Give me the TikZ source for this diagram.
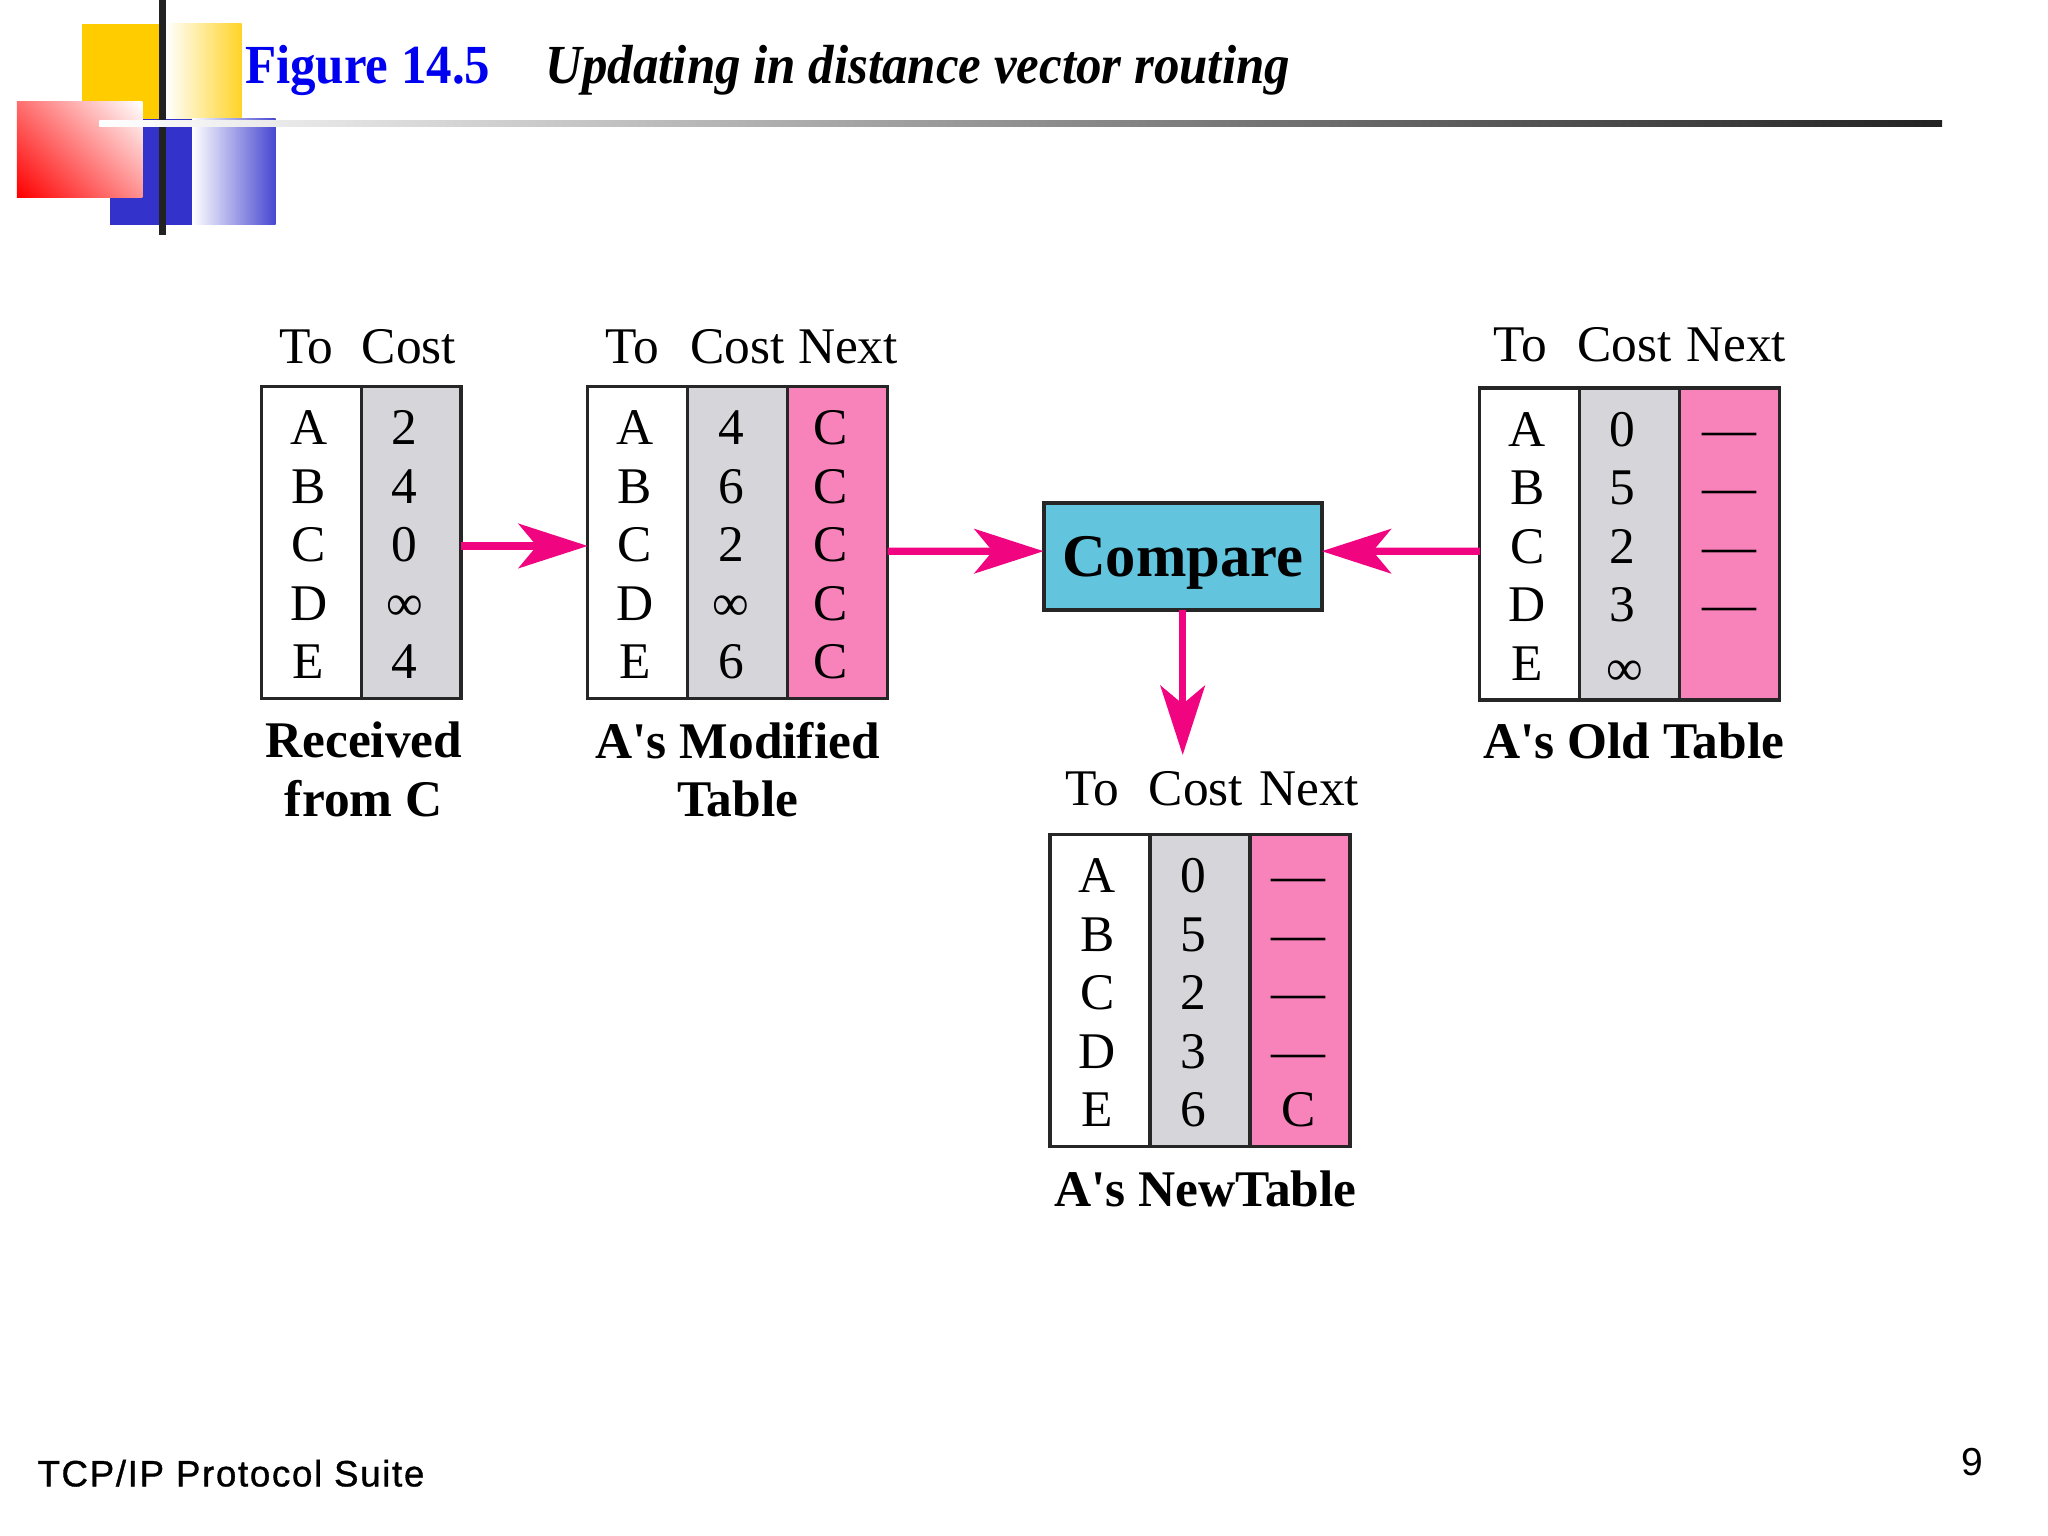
\documentclass[tikz,border=0pt]{standalone}
\usepackage{fontspec}
\usepackage{graphicx}
\usetikzlibrary{positioning,arrows.meta,shadings}
\newfontfamily\tabfont{Liberation Serif}
\newfontfamily\titlefont[FakeStretch=0.925]{Liberation Serif}
\newfontfamily\footfont[LetterSpace=4.5,FakeBold=1]{Liberation Sans}
\newfontfamily\numfont{Liberation Sans}
\definecolor{costgray}{RGB}{214,213,217}
\definecolor{nextpink}{RGB}{248,130,186}
\definecolor{arrowpink}{RGB}{240,4,127}
\definecolor{comparecyan}{RGB}{98,196,221}
\definecolor{rulegray}{RGB}{34,34,34}
\definecolor{titleblue}{RGB}{0,0,240}
\definecolor{squareblue}{RGB}{51,51,204}
\definecolor{squareyellow}{RGB}{255,204,0}
\pgfdeclarehorizontalshading{redfade}{100bp}{color(0bp)=(red); color(15bp)=(red); color(85bp)=(white); color(100bp)=(white)}
\newcommand{\dashmark}{\scalebox{1.05}[1]{—}}
% cell texts of one column, #1 = column node, #2 = shift to the left
\newcommand{\colrows}[3]{%
  \foreach \t [count=\r] in {#3}
    \node[cell] (#1-\r) at ([xshift=-#2, yshift={(-0.445-(\r-1)*0.448)*1cm}] #1.north) {\t};
}
\begin{document}
\begin{tikzpicture}[
    x=0.1mm, y=-0.1mm,
    node distance=0pt,
    column/.style={rectangle, draw=black!85, line width=0.25mm, inner sep=0pt, outer sep=0pt, minimum width=7.65mm, minimum height=23.9mm},
    cell/.style={anchor=base, inner sep=0pt, font=\tabfont\fontsize{11.2}{13}\selectfont},
    head/.style={anchor=base, inner sep=0pt, font=\tabfont\fontsize{11.2}{13}\selectfont},
    caption/.style={inner sep=0pt, align=center, font=\tabfont\bfseries\fontsize{11.2}{12.76}\selectfont},
    arrow/.style={-{Stealth[length=5.3mm, width=3.4mm, inset=1.4mm]}, line width=0.55mm, arrowpink}
]
\useasboundingbox (0,0) rectangle (1568,1176);

% corner decoration
\fill[squareyellow] (63,18) rectangle (127,94);
\shade[left color=white, right color=squareyellow!85!white] (127,18) rectangle (185,94);
\fill[squareblue] (84,91) rectangle (147,172);
\shade[left color=white, right color=squareblue!90!white] (147,91) rectangle (211,172);
\fill[rulegray] (122,0) rectangle (127,180);
\shade[shading=redfade, shading angle=45] (13,78) rectangle (109,151);
\shade[left color=white, middle color=white!75!black, right color=rulegray] (76,92) rectangle (1487,97);

% title
\node[anchor=base west, inner sep=0pt, text=titleblue, font=\titlefont\bfseries\fontsize{12}{14}\selectfont] (figno) at (187,64) {Figure 14.5};
\node[anchor=base west, inner sep=0pt, font=\titlefont\bfseries\itshape\fontsize{12}{14}\selectfont] (figtitle) at (417,64) {Updating in distance vector routing};

% received from C
\node[column, fill=white, anchor=north west] (recv-to) at (200,296) {};
\node[column, fill=costgray, right=of recv-to] (recv-cost) {};
\colrows{recv-to}{0.2mm}{A,B,C,D,E}
\colrows{recv-cost}{0.5mm}{2,4,0,∞,4}
\node[head] (recv-h1) at ([xshift=-0.4mm, yshift=1.8mm] recv-to.north) {To};
\node[head] (recv-h2) at ([xshift=-0.15mm, yshift=1.8mm] recv-cost.north) {Cost};
\node[caption, xshift=0.2mm, below=1.7mm of recv-to.south east] (recv-cap) {Received\\from C};

% modified table
\node[column, fill=white, anchor=north west] (mod-to) at (450,296) {};
\node[column, fill=costgray, right=of mod-to] (mod-cost) {};
\node[column, fill=nextpink, right=of mod-cost] (mod-next) {};
\colrows{mod-to}{0.2mm}{A,B,C,D,E}
\colrows{mod-cost}{0.5mm}{4,6,2,∞,6}
\colrows{mod-next}{0.5mm}{C,C,C,C,C}
\node[head] (mod-h1) at ([xshift=-0.4mm, yshift=1.8mm] mod-to.north) {To};
\node[head] (mod-h2) at ([xshift=0mm, yshift=1.8mm] mod-cost.north) {Cost};
\node[head] (mod-h3) at ([xshift=0.8mm, yshift=1.8mm] mod-next.north) {Next};
\node[caption, below=1.7mm of mod-cost.south] (mod-cap) {A's Modified\\Table};

% compare
\node[rectangle, draw=black!85, line width=0.3mm, fill=comparecyan, minimum width=21.3mm, minimum height=8.2mm, inner sep=0pt, outer sep=0pt, text height=4mm, text depth=0.95mm, font=\tabfont\bfseries\fontsize{13.2}{15}\selectfont] (compare) at (905.5,426) {Compare};

% old table
\node[column, fill=white, anchor=north west] (old-to) at (1133,297) {};
\node[column, fill=costgray, right=of old-to] (old-cost) {};
\node[column, fill=nextpink, right=of old-cost] (old-next) {};
\colrows{old-to}{0.2mm}{A,B,C,D,E}
\colrows{old-cost}{0.6mm}{0,5,2,3}
\colrows{old-next}{0mm}{\dashmark,\dashmark,\dashmark,\dashmark}
\node[cell] (old-inf) at ([xshift=-0.4mm, yshift=-22.8mm] old-cost.north) {∞};
\node[head] (old-h1) at ([xshift=-0.7mm, yshift=2mm] old-to.north) {To};
\node[head] (old-h2) at ([xshift=-0.4mm, yshift=2mm] old-cost.north) {Cost};
\node[head] (old-h3) at ([xshift=0.5mm, yshift=2mm] old-next.north) {Next};
\node[caption, xshift=0.3mm, below=1.7mm of old-cost.south] (old-cap) {A's Old Table};

% new table
\node[column, fill=white, anchor=north west] (new-to) at (804,639) {};
\node[column, fill=costgray, right=of new-to] (new-cost) {};
\node[column, fill=nextpink, right=of new-cost] (new-next) {};
\colrows{new-to}{0.2mm}{A,B,C,D,E}
\colrows{new-cost}{0.5mm}{0,5,2,3,6}
\colrows{new-next}{0.1mm}{\dashmark,\dashmark,\dashmark,\dashmark,C}
\node[head] (new-h1) at ([xshift=-0.6mm, yshift=2.2mm] new-to.north) {To};
\node[head] (new-h2) at ([xshift=-0.3mm, yshift=2.2mm] new-cost.north) {Cost};
\node[head] (new-h3) at ([xshift=0.7mm, yshift=2.2mm] new-next.north) {Next};
\node[caption, xshift=0.4mm, below=1.8mm of new-cost.south] (new-cap) {A's NewTable};

% footer
\node[anchor=base west, inner sep=0pt, font=\footfont\fontsize{8}{10}\selectfont] (suite) at (28,1138) {TCP/IP Protocol Suite};
\node[anchor=base, inner sep=0pt, font=\numfont\fontsize{8.5}{10}\selectfont] (pageno) at (1510,1130) {9};

% arrows
\coordinate (newin) at ([yshift=-11.1mm] compare.south);
\draw[arrow] ([yshift=-0.25mm] recv-cost.east) -- ([yshift=-0.25mm] mod-to.west);
\draw[arrow] ([yshift=-0.65mm] mod-next.east) -- ([yshift=0.4mm] compare.west);
\draw[arrow] ([yshift=-0.55mm] old-to.west) -- ([yshift=0.4mm] compare.east);
\draw[arrow] (compare.south) -- (newin);
\end{tikzpicture}
\end{document}
